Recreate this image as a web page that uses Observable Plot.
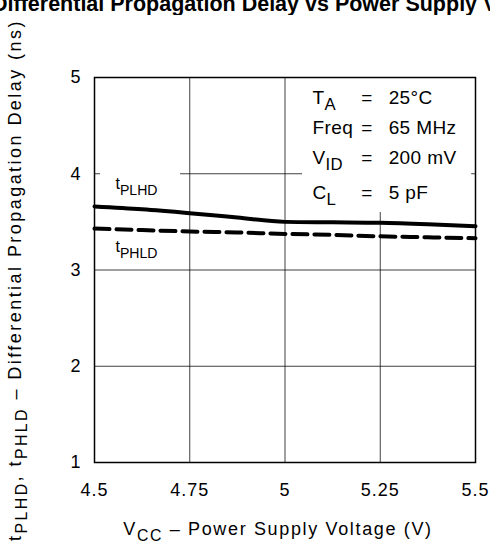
<!DOCTYPE html>
<html><head><meta charset="utf-8">
<script src="https://cdn.jsdelivr.net/npm/d3@7"></script>
<script src="https://cdn.jsdelivr.net/npm/@observablehq/plot@0.6"></script>
<style>
body{margin:0;background:#fff;width:490px;height:550px;overflow:hidden;position:relative;}
#title{position:absolute;top:-6px;left:-8px;font:bold 21.5px "Liberation Sans",Arial,sans-serif;white-space:nowrap;line-height:21px;color:#000;}
#chart{position:absolute;top:15px;left:0;}
#chart svg{overflow:visible;}
</style></head><body>
<div id="title">Differential Propagation Delay vs Power Supply Voltage</div>
<div id="chart"></div>
<script>
// Data
const vcc   = [4.5, 4.625, 4.75, 4.875, 5, 5.125, 5.25, 5.375, 5.5];
const tPLHD = [3.66, 3.63, 3.59, 3.545, 3.50, 3.495, 3.49, 3.475, 3.455];
const tPHLD = [3.43, 3.415, 3.40, 3.39, 3.375, 3.365, 3.35, 3.34, 3.33];
const xTicks = [4.5, 4.75, 5, 5.25, 5.5];
const xTickLabels = ["4.5", "4.75", "5", "5.25", "5.5"];
const yTicks = [1, 2, 3, 4, 5];
const yTickLabels = ["1", "2", "3", "4", "5"];
const condNames = ["T_{A}", "Freq", "V_{ID}", "C_{L}"];
const condValues = ["25°C", "65 MHz", "200 mV", "5 pF"];
const seriesLabels = ["t_{PLHD}", "t_{PHLD}"];
const xLabel = "V_{CC} – Power Supply Voltage (V)";
const yLabel = "t_{PLHD}, t_{PHLD} – Differential Propagation Delay (ns)";

const plhd = vcc.map((v, i) => ({vcc: v, delay: tPLHD[i]}));
const phld = vcc.map((v, i) => ({vcc: v, delay: tPHLD[i]}));

const font = '"Liberation Sans", Arial, sans-serif';
const condY = [4.792, 4.481, 4.169, 3.805];

const chart = Plot.plot({
  width: 490,
  height: 535,
  marginTop: 62,
  marginBottom: 88,
  marginLeft: 94,
  marginRight: 15,
  style: {fontFamily: font, fontSize: "18px", color: "#000", background: "#fff", letterSpacing: "1px"},
  x: {domain: [4.5, 5.5], ticks: xTicks, tickFormat: d => xTickLabels[xTicks.indexOf(d)], tickSize: 0, tickPadding: 21, label: null},
  y: {domain: [1, 5], ticks: yTicks, tickFormat: d => yTickLabels[yTicks.indexOf(d)], tickSize: 0, tickPadding: 13, label: null},
  marks: [
    Plot.gridX(xTicks, {stroke: "#000", strokeOpacity: 0.75, strokeWidth: 1}),
    Plot.gridY(yTicks, {stroke: "#000", strokeOpacity: 0.75, strokeWidth: 1}),
    // white backgrounds behind the conditions box and the t_PLHD label
    Plot.rect([0], {x1: 5.046, x2: 5.49, y1: 3.597, y2: 5, fill: "white"}),
    Plot.rect([0], {x1: 4.516, x2: 4.726, y1: 3.722, y2: 4.086, fill: "white"}),
    Plot.text(condNames, {x: () => 5.072, y: (d, i) => condY[i], text: d => d, textAnchor: "start", fontSize: 19}),
    Plot.text(condNames, {x: () => 5.2, y: (d, i) => condY[i], text: () => "=", textAnchor: "start", fontSize: 19}),
    Plot.text(condValues, {x: () => 5.272, y: (d, i) => condY[i], text: d => d, textAnchor: "start", fontSize: 19}),
    Plot.text(seriesLabels, {x: () => 4.555, y: (d, i) => [3.9, 3.24][i], text: d => d, textAnchor: "start", fontSize: 16}),
    Plot.line(plhd, {x: "vcc", y: "delay", stroke: "#000", strokeWidth: 4, curve: "monotone-x"}),
    Plot.line(phld, {x: "vcc", y: "delay", stroke: "#000", strokeWidth: 4, strokeDasharray: "15,7", curve: "monotone-x"}),
    Plot.text([yLabel], {frameAnchor: "left", textAnchor: "middle", rotate: -90, dx: -79, dy: 10, text: d => d, fontSize: 18}),
    Plot.text([xLabel], {frameAnchor: "bottom", textAnchor: "middle", dx: -7, dy: 72, text: d => d, fontSize: 18}),
    Plot.frame({stroke: "#000", strokeWidth: 1.5})
  ]
});
document.getElementById("chart").appendChild(chart);

// per-text letter spacing
const spacing = new Map([[yLabel, "2.45px"], [xLabel, "1.65px"], ...seriesLabels.map(s => [s, "0px"])]);
condNames.concat(condValues).forEach(s => spacing.set(s, "0.4px"));
chart.querySelectorAll("text").forEach(el => {
  const s = spacing.get(el.textContent);
  if (s) el.style.letterSpacing = s;
});

// convert _{...} into subscripts
const SVGNS = "http://www.w3.org/2000/svg";
chart.querySelectorAll("text").forEach(el => {
  const targets = el.querySelectorAll("tspan").length ? [...el.querySelectorAll("tspan")] : [el];
  targets.forEach(n => {
    const s = n.textContent;
    if (!s.includes("_{")) return;
    n.textContent = "";
    const parts = s.split(/(_\{[^}]*\})/).filter(p => p.length);
    let shifted = false;
    for (const p of parts) {
      const t = document.createElementNS(SVGNS, "tspan");
      if (p.startsWith("_{")) {
        t.textContent = p.slice(2, -1);
        t.setAttribute("dy", "6");
        t.setAttribute("font-size", "88%");
        shifted = true;
      } else {
        t.textContent = p;
        if (shifted) { t.setAttribute("dy", "-6"); shifted = false; }
      }
      n.appendChild(t);
    }
  });
});
</script>
</body></html>
